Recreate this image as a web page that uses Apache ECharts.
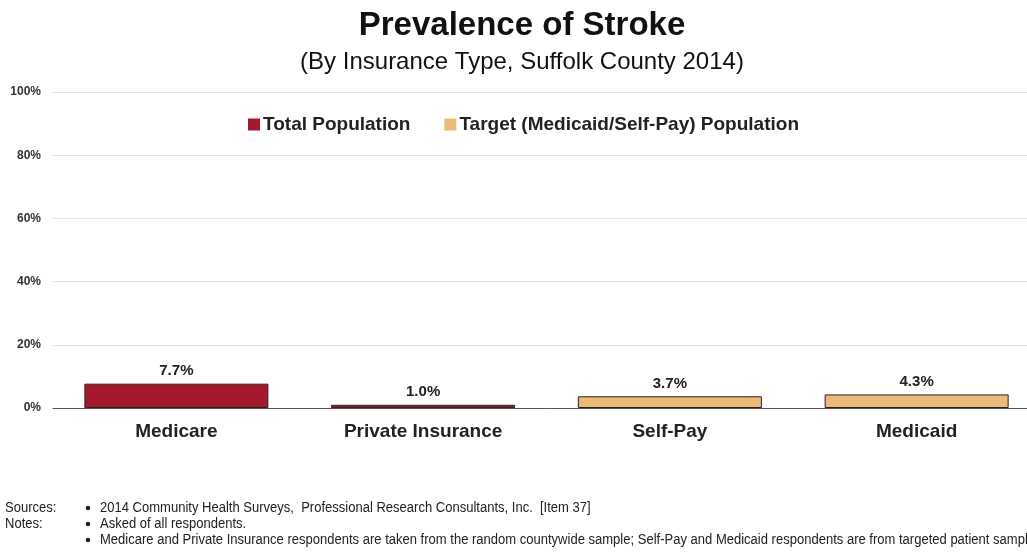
<!DOCTYPE html>
<html>
<head>
<meta charset="utf-8">
<script src="https://cdn.jsdelivr.net/npm/echarts@6/dist/echarts.min.js"></script>
<style>
  html, body { margin: 0; padding: 0; background: #fff; overflow: hidden; }
  /* the drawing area runs a little past the right edge of the page */
  #chart { width: 1044px; height: 552px; }
</style>
</head>
<body>
<div id="chart"></div>
<script>
// Stroke prevalence by insurance type
const categories = ['Medicare', 'Private Insurance', 'Self-Pay', 'Medicaid'];
const totalPopulation = [7.7, 1.0, null, null];
const targetPopulation = [null, null, 3.7, 4.3];
const yTicks = [0, 20, 40, 60, 80, 100];

const sourceLines = ['2014 Community Health Surveys,  Professional Research Consultants, Inc.  [Item 37]'];
const noteLines = [
  'Asked of all respondents.',
  'Medicare and Private Insurance respondents are taken from the random countywide sample; Self-Pay and Medicaid respondents are from targeted patient samples.'
];

const RED = '#A5192E';
const TAN = '#EBB978';
const EDGE = '#2e2220';
const SANS = 'Liberation Sans, Arial, sans-serif';
const FOOT_FONT = '14px "Liberation Sans", Arial, sans-serif';

const chart = echarts.init(document.getElementById('chart'));

const labelStyle = {
  show: true,
  position: 'top',
  distance: 5,
  formatter: p => p.value.toFixed(1) + '%',
  fontFamily: SANS,
  fontWeight: 'bold',
  fontSize: 15,
  color: '#222'
};

// footer: sources and notes, with bullets
const footer = [];
const footLine = (txt, x, y) => ({
  type: 'text', x: x, y: y, scaleX: 0.93,
  style: { text: txt, font: FOOT_FONT, fill: '#222', textVerticalAlign: 'middle' }
});
footer.push(footLine('Sources:', 5, 508));
footer.push(footLine('Notes:', 5, 524));
[...sourceLines, ...noteLines].forEach((t, i) => {
  const y = 508 + i * 16;
  footer.push({ type: 'circle', shape: { cx: 88, cy: y, r: 2.3 }, style: { fill: '#222' } });
  footer.push(footLine(t, 100, y));
});

chart.setOption({
  animation: false,
  title: [
    {
      text: 'Prevalence of Stroke',
      left: 'center',
      top: 4,
      textStyle: { fontFamily: SANS, fontWeight: 'bold', fontSize: 33, color: '#111' }
    },
    {
      text: '(By Insurance Type, Suffolk County 2014)',
      left: 'center',
      top: 45,
      textStyle: { fontFamily: SANS, fontWeight: 'normal', fontSize: 24, color: '#111' }
    }
  ],
  legend: {
    top: 110,
    left: 243,
    itemGap: 34,
    itemWidth: 12,
    itemHeight: 12,
    icon: 'rect',
    itemStyle: { borderWidth: 0 },
    textStyle: { fontFamily: SANS, fontWeight: 'bold', fontSize: 19, color: '#222', padding: [0, 0, 0, -2] },
    data: ['Total Population', 'Target (Medicaid/Self-Pay) Population']
  },
  grid: { left: 53, top: 92, right: 4, bottom: 144, containLabel: false },
  xAxis: {
    type: 'category',
    data: categories,
    axisTick: { show: false },
    axisLine: { lineStyle: { color: '#555', width: 1 } },
    axisLabel: {
      margin: 14,
      fontFamily: SANS,
      fontWeight: 'bold',
      fontSize: 19,
      color: '#222'
    }
  },
  yAxis: {
    type: 'value',
    min: 0,
    max: 100,
    interval: 20,
    axisLine: { show: false },
    axisTick: { show: false },
    splitLine: { lineStyle: { color: '#e2e2e2', width: 1 } },
    axisLabel: {
      margin: 12,
      formatter: v => yTicks.includes(v) ? v + '%' : '',
      fontFamily: SANS,
      fontWeight: 'bold',
      fontSize: 12,
      color: '#333'
    }
  },
  series: [
    {
      name: 'Total Population',
      type: 'bar',
      data: totalPopulation,
      barWidth: 184,
      barGap: '-100%',
      itemStyle: { color: RED, borderColor: EDGE, borderWidth: 1 },
      label: labelStyle
    },
    {
      name: 'Target (Medicaid/Self-Pay) Population',
      type: 'bar',
      data: targetPopulation,
      barWidth: 184,
      barGap: '-100%',
      itemStyle: { color: TAN, borderColor: EDGE, borderWidth: 1 },
      label: labelStyle
    }
  ],
  graphic: footer
});
</script>
</body>
</html>
